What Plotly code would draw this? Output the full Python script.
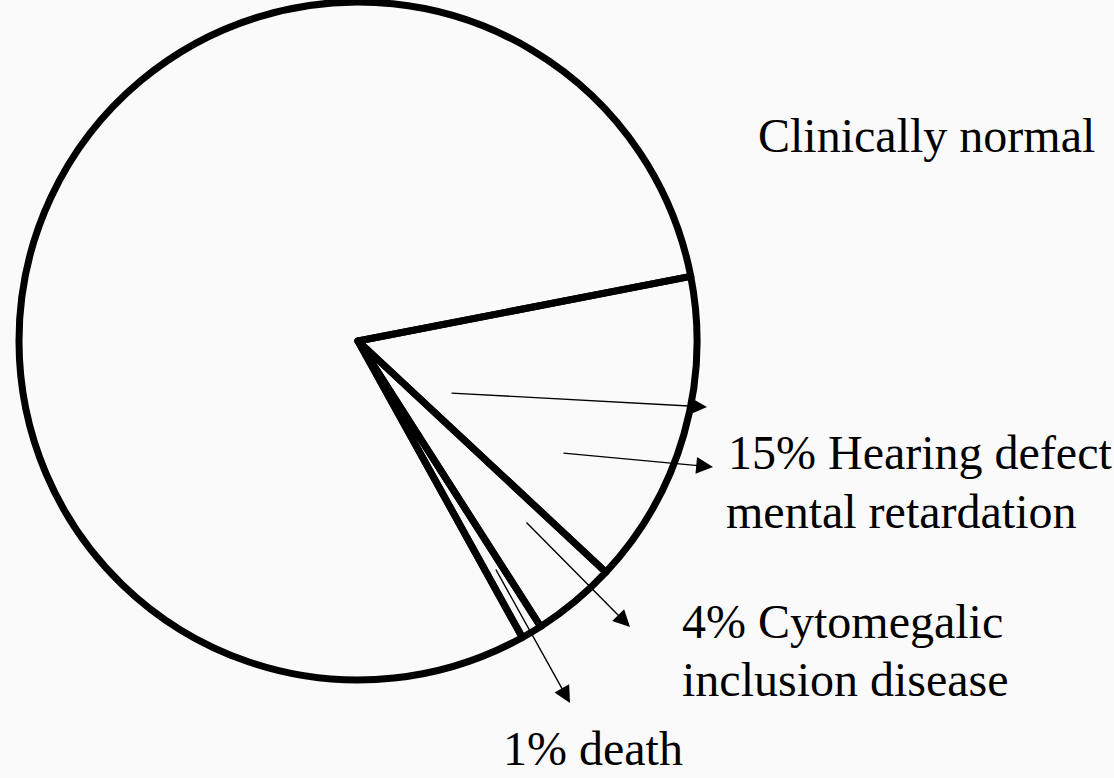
import plotly.graph_objects as go

W, H = 1114, 778

# ---- data ----
slice_names = ["Hearing defect / mental retardation", "Cytomegalic inclusion disease", "Death", "Clinically normal"]
slice_values = [15, 4, 1, 80]

label_lines = [
    ["Clinically normal"],
    ["15% Hearing defect", "mental retardation"],
    ["4% Cytomegalic", "inclusion disease"],
    ["1% death"],
]

# ---- layout helpers (pixel -> paper) ----
def px(x):
    return x / W

def py(y):
    return 1 - y / H

cx, cy, r = 358, 341, 339

fig = go.Figure()
fig.add_trace(go.Pie(
    labels=slice_names,
    values=slice_values,
    sort=False,
    direction="clockwise",
    rotation=79,
    textinfo="none",
    hoverinfo="label+value",
    showlegend=False,
    marker=dict(colors=["rgba(0,0,0,0)"] * 4, line=dict(color="black", width=7)),
    domain=dict(x=[px(cx - r), px(cx + r)], y=[py(cy + r), py(cy - r)]),
))

font = dict(family="Liberation Serif, Times New Roman, serif", size=48, color="black")

# text positions: (left x, centre y of each line)
text_pos = [
    [(756, 136)],
    [(726, 452), (724, 511)],
    [(680, 621), (680, 679)],
    [(501, 748)],
]
annotations = []
for lines, poss in zip(label_lines, text_pos):
    for t, (x, y) in zip(lines, poss):
        annotations.append(dict(
            x=px(x), y=py(y), xref="paper", yref="paper", text=t,
            showarrow=False, xanchor="left", yanchor="middle", font=font,
        ))

# arrows: head (x, y) and tail (tx, ty) in pixels
arrows = [
    ((707, 407), (450, 393)),
    ((713, 467), (562, 453)),
    ((630, 627), (525, 521)),
    ((570, 703), (495, 568)),
]
for (hx, hy), (tx, ty) in arrows:
    annotations.append(dict(
        x=px(hx), y=py(hy), xref="paper", yref="paper", text="",
        showarrow=True, ax=tx - hx, ay=ty - hy, axref="pixel", ayref="pixel",
        arrowhead=2, arrowsize=2.4, arrowwidth=1.4, arrowcolor="black", standoff=0,
    ))

fig.update_layout(
    width=W, height=H,
    margin=dict(l=0, r=0, t=0, b=0),
    paper_bgcolor="#fafafa",
    plot_bgcolor="#fafafa",
    annotations=annotations,
    showlegend=False,
)

fig.write_html("out.html")
